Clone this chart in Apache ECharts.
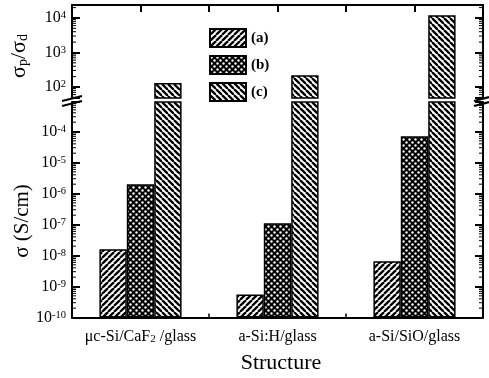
<!DOCTYPE html>
<html>
<head>
<meta charset="utf-8">
<script src="https://cdn.jsdelivr.net/npm/echarts@6/dist/echarts.min.js"></script>
<style>html,body{margin:0;padding:0;background:#fff;}#c{width:489px;height:378px;}</style>
</head>
<body>
<div id="c"></div>
<script>
// ---- data ----
const categories = ['μc-Si/CaF2/glass', 'a-Si:H/glass', 'a-Si/SiO/glass'];
const categoryLabels = ['μc-Si/CaF{sub|2} /glass', 'a-Si:H/glass', 'a-Si/SiO/glass'];
const seriesNames = ['(a)', '(b)', '(c)'];
const sigmaA = [1.6e-8, 5.5e-10, 6.5e-9];      // σ (S/cm), series (a)
const sigmaB = [2.0e-6, 1.1e-7, 7.0e-5];       // σ (S/cm), series (b)
const ratioC = [130, 220, 12000];              // σp/σd, series (c)
const upperTickExps = [2, 3, 4];
const lowerTickExps = [-10, -9, -8, -7, -6, -5, -4];

const FONT = 'Liberation Serif, DejaVu Serif, serif';
const upperMin = Math.pow(10, 1.68), upperMax = Math.pow(10, 4.377);
const lowerMin = 1e-10, lowerMax = Math.pow(10, -3.048);

function makePattern(kind) {
  const s = 6;
  const c = document.createElement('canvas');
  c.width = s; c.height = s;
  const g = c.getContext('2d');
  if (kind === 'dots') {
    g.fillStyle = '#000'; g.fillRect(0, 0, s, s);
    g.fillStyle = '#fff';
    [[1.5, 1.5], [4.5, 4.5]].forEach(p => { g.beginPath(); g.arc(p[0], p[1], 1.2, 0, Math.PI * 2); g.fill(); });
  } else {
    g.fillStyle = '#fff'; g.fillRect(0, 0, s, s);
    g.strokeStyle = '#000'; g.lineWidth = 2.3;
    for (let k = -1; k <= 1; k++) {
      g.beginPath();
      if (kind === 'fwd') { g.moveTo(k * s, s); g.lineTo(k * s + s, 0); }
      else { g.moveTo(k * s, 0); g.lineTo(k * s + s, s); }
      g.stroke();
    }
  }
  return { image: c, repeat: 'repeat' };
}
const patterns = [makePattern('fwd'), makePattern('dots'), makePattern('back')];
const itemStyles = patterns.map(p => ({ color: p, borderColor: '#000', borderWidth: 1.5 }));

function expLabel(v) {
  const l = Math.log10(v), e = Math.round(l);
  if (Math.abs(l - e) > 1e-6) return '';
  return '{b|10}{s|' + e + '}';
}
const labelRich = {
  b: { fontFamily: FONT, fontSize: 16, color: '#000', verticalAlign: 'bottom' },
  s: { fontFamily: FONT, fontSize: 10.5, color: '#000', verticalAlign: 'top' }
};

function minorTicks(lo, hi) {
  const out = [];
  for (let e = -11; e <= 5; e++) for (let k = 2; k <= 9; k++) {
    const v = k * Math.pow(10, e);
    if (v > lo && v < hi) out.push([0, v]);
  }
  return out;
}
function minorRender(params, api) {
  const y = api.coord([0, api.value(1)])[1];
  const cs = params.coordSys;
  return { type: 'group', children: [
    { type: 'line', shape: { x1: cs.x, y1: y, x2: cs.x + 4, y2: y }, style: { stroke: '#000', lineWidth: 1 } },
    { type: 'line', shape: { x1: cs.x + cs.width - 4, y1: y, x2: cs.x + cs.width, y2: y }, style: { stroke: '#000', lineWidth: 1 } }
  ]};
}

const axisLine = { show: true, lineStyle: { color: '#000', width: 2 } };
function yAx(grid, pos, lo, hi, labels, extra) {
  return Object.assign({
    type: 'log', gridIndex: grid, position: pos, min: lo, max: hi, logBase: 10,
    axisLine: axisLine,
    axisTick: { show: true, inside: true, length: 8, lineStyle: { color: '#000', width: 2 } },
    axisLabel: { show: labels, margin: 6, formatter: expLabel, rich: labelRich, showMinLabel: true, showMaxLabel: true },
    splitLine: { show: false }
  }, extra || {});
}

const chart = echarts.init(document.getElementById('c'), null, { renderer: 'canvas' });
chart.setOption({
  backgroundColor: '#fff',
  animation: false,
  grid: [
    { left: 72, right: 6, top: 5, height: 93 },
    { left: 72, right: 6, top: 102, height: 215.5 }
  ],
  legend: {
    data: seriesNames, orient: 'vertical', left: 204, top: 23,
    itemWidth: 36, itemHeight: 18, itemGap: 7, icon: 'rect',
    textStyle: { fontFamily: FONT, fontSize: 15, fontWeight: 'bold', color: '#000' },
    selectedMode: false
  },
  xAxis: [
    { type: 'category', gridIndex: 0, data: categories, show: false },
    { type: 'value', gridIndex: 0, position: 'top', min: 0, max: 3, interval: 0.5,
      axisLine: axisLine, axisLabel: { show: false }, splitLine: { show: false },
      axisTick: { show: true, inside: true, length: 7, lineStyle: { color: '#000', width: 2 } } },
    { type: 'category', gridIndex: 1, data: categories, position: 'bottom',
      axisLine: axisLine,
      axisTick: { show: true, inside: true, length: 4, lineStyle: { color: '#000', width: 1.5 } },
      axisLabel: { margin: 11, color: '#000', interval: 0, hideOverlap: false,
        formatter: (v, i) => '{m|' + categoryLabels[i].replace('{sub|2}', '}{sub|2}{m|') + '}',
        rich: { m: { fontFamily: FONT, fontSize: 16, color: '#000', verticalAlign: 'top' },
                sub: { fontFamily: FONT, fontSize: 11, color: '#000', verticalAlign: 'bottom' } } } }
  ],
  yAxis: [
    yAx(0, 'left', upperMin, upperMax, true),
    yAx(0, 'right', upperMin, upperMax, false),
    yAx(1, 'left', lowerMin, lowerMax, true, { startValue: lowerMin }),
    yAx(1, 'right', lowerMin, lowerMax, false, { startValue: lowerMin })
  ],
  series: [
    { name: seriesNames[0], type: 'bar', xAxisIndex: 0, yAxisIndex: 0, data: [null, null, null], itemStyle: itemStyles[0], barGap: '0%', barCategoryGap: '40%' },
    { name: seriesNames[1], type: 'bar', xAxisIndex: 0, yAxisIndex: 0, data: [null, null, null], itemStyle: itemStyles[1], barGap: '0%', barCategoryGap: '40%' },
    { name: seriesNames[2], type: 'bar', xAxisIndex: 0, yAxisIndex: 0, data: ratioC, itemStyle: itemStyles[2], barGap: '0%', barCategoryGap: '40%', clip: true },
    { name: seriesNames[0], type: 'bar', xAxisIndex: 2, yAxisIndex: 2, data: sigmaA, itemStyle: itemStyles[0], barGap: '0%', barCategoryGap: '40%', clip: true },
    { name: seriesNames[1], type: 'bar', xAxisIndex: 2, yAxisIndex: 2, data: sigmaB, itemStyle: itemStyles[1], barGap: '0%', barCategoryGap: '40%', clip: true },
    { name: seriesNames[2], type: 'bar', xAxisIndex: 2, yAxisIndex: 2, data: ratioC, itemStyle: itemStyles[2], barGap: '0%', barCategoryGap: '40%', clip: true },
    { type: 'custom', xAxisIndex: 0, yAxisIndex: 0, data: minorTicks(upperMin, upperMax), encode: { x: 0, y: 1 }, renderItem: minorRender, silent: true, z: 5 },
    { type: 'custom', xAxisIndex: 2, yAxisIndex: 2, data: minorTicks(lowerMin, lowerMax), encode: { x: 0, y: 1 }, renderItem: minorRender, silent: true, z: 5 }
  ],
  graphic: [
    { type: 'text', x: 19, y: 56, rotation: Math.PI / 2,
      style: { text: 'σ{sub|p}/σ{sub|d}', fontFamily: FONT, fontSize: 22, fill: '#000', align: 'center', verticalAlign: 'middle',
        rich: { sub: { fontFamily: FONT, fontSize: 14, fill: '#000', verticalAlign: 'bottom', padding: [8, 0, 0, 0] } } } },
    { type: 'text', x: 22, y: 221, rotation: Math.PI / 2,
      style: { text: 'σ (S/cm)', fontFamily: FONT, fontSize: 21, fill: '#000', align: 'center', verticalAlign: 'middle' } },
    { type: 'text', x: 281, y: 363,
      style: { text: 'Structure', fontFamily: FONT, fontSize: 22, fill: '#000', align: 'center', verticalAlign: 'middle' } },
    { type: 'line', shape: { x1: 62, y1: 101, x2: 82, y2: 96 }, style: { stroke: '#000', lineWidth: 2.2 }, z: 100 },
    { type: 'line', shape: { x1: 62, y1: 106, x2: 82, y2: 101 }, style: { stroke: '#000', lineWidth: 2.2 }, z: 100 },
    { type: 'line', shape: { x1: 474, y1: 101, x2: 489, y2: 97 }, style: { stroke: '#000', lineWidth: 2.2 }, z: 100 },
    { type: 'line', shape: { x1: 474, y1: 106, x2: 489, y2: 102 }, style: { stroke: '#000', lineWidth: 2.2 }, z: 100 }
  ]
});
</script>
</body>
</html>
